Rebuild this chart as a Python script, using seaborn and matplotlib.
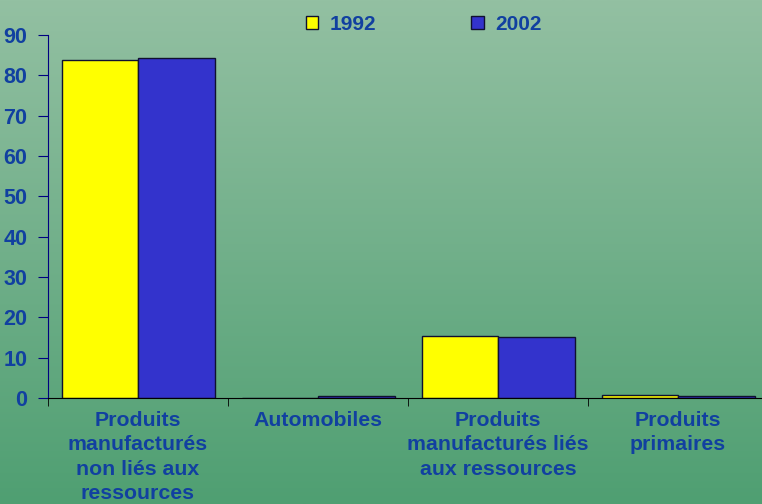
import numpy as np
import pandas as pd
import seaborn as sns
import matplotlib.pyplot as plt
from matplotlib.colors import LinearSegmentedColormap

categories = ["Produits\nmanufacturés\nnon liés aux\nressources",
              "Automobiles",
              "Produits\nmanufacturés liés\naux ressources",
              "Produits\nprimaires"]
values_1992 = [83.8, 0.1, 15.4, 0.8]
values_2002 = [84.2, 0.4, 15.1, 0.4]
years = ["1992", "2002"]

df = pd.DataFrame({
    "cat": categories * 2,
    "year": [years[0]] * 4 + [years[1]] * 4,
    "val": values_1992 + values_2002,
})

txt = "#1140A0"
plt.rcParams['font.family'] = ['Liberation Sans', 'DejaVu Sans']
plt.rcParams['font.weight'] = 'bold'

fig = plt.figure(figsize=(7.62, 5.04), dpi=100)

# gradient background
bg = fig.add_axes([0, 0, 1, 1], zorder=0)
cmap = LinearSegmentedColormap.from_list("bg", ["#93C0A2", "#4F9F72"])
bg.imshow(np.linspace(0, 1, 256).reshape(-1, 1), aspect="auto", cmap=cmap,
          extent=[0, 1, 0, 1], origin="upper")
bg.axis("off")

ax = fig.add_axes([48 / 762, (504 - 398) / 504, 720 / 762, 363 / 504], zorder=1)
ax.set_facecolor("none")

sns.barplot(data=df, x="cat", y="val", hue="year", hue_order=years,
            palette=["#FFFF00", "#3333CC"], saturation=1, width=0.85, gap=0,
            edgecolor="#101030", linewidth=1.0, ax=ax, legend=True)

ax.set_ylim(0, 90)
ax.set_xlim(-0.5, 3.5)
ax.set_yticks(range(0, 91, 10))
ax.set_xlabel("")
ax.set_ylabel("")
for s in ["top", "right"]:
    ax.spines[s].set_visible(False)
ax.spines["left"].set_color("#000080")
ax.spines["bottom"].set_color("#000000")
ax.tick_params(axis="y", colors="#000080", labelcolor=txt, labelsize=15.5,
               length=7, direction="out", pad=8)
ax.tick_params(axis="x", which="major", length=0, labelcolor=txt,
               labelsize=15.3, pad=9)
ax.set_xticks([-0.5, 0.5, 1.5, 2.5, 3.5], minor=True)
ax.tick_params(axis="x", which="minor", length=6, color="#000000")
for lab in ax.get_xticklabels():
    lab.set_linespacing(1.37)
    lab.set_fontweight("bold")
for lab in ax.get_yticklabels():
    lab.set_fontweight("bold")

leg = ax.legend(loc="upper center", bbox_to_anchor=(0.522, 1.108), ncol=2,
                frameon=False, fontsize=15, handlelength=0.6,
                handleheight=0.6, handletextpad=0.55, columnspacing=4.55)
for t in leg.get_texts():
    t.set_color(txt)
    t.set_fontweight("bold")

fig.savefig("out.png", dpi=100)
